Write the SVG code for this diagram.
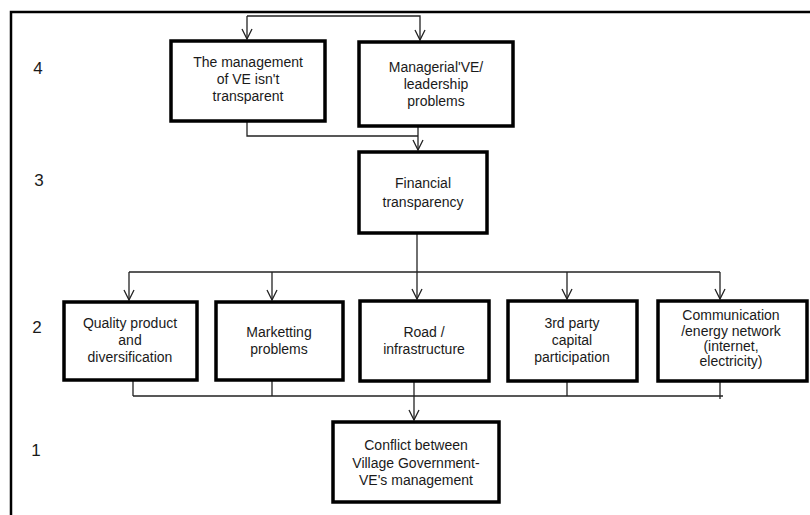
<svg xmlns="http://www.w3.org/2000/svg" width="810" height="515" viewBox="0 0 810 515">
<style>
.box{fill:#fff;stroke:#000;stroke-width:3.5}
.t{font-family:"Liberation Sans",Arial,sans-serif;font-size:14px;fill:#1a1a1a;text-anchor:middle}
.n{font-family:"Liberation Sans",Arial,sans-serif;font-size:17px;fill:#1a1a1a;text-anchor:middle}
.c{fill:none;stroke:#222;stroke-width:1.3}
.a{marker-end:url(#arr)}
</style>
<defs>
<marker id="arr" viewBox="0 0 12 12" refX="11" refY="6" markerWidth="12" markerHeight="12" markerUnits="userSpaceOnUse" orient="auto">
<path d="M1,1 L11,6 L1,11" fill="none" stroke="#222" stroke-width="1.3"/>
</marker>
</defs>
<rect width="810" height="515" fill="#fff"/>
<g id="frame"><path d="M11,515 V12 H810" fill="none" stroke="#000" stroke-width="2.5"/></g>
<g id="levels">
<text class="n" x="38" y="74">4</text>
<text class="n" x="39" y="186">3</text>
<text class="n" x="37" y="333">2</text>
<text class="n" x="36" y="456">1</text>
</g>
<g id="connectors">
<path class="c a" d="M247,16 H420 V40"/>
<path class="c a" d="M247,16 V39"/>
<path class="c" d="M247,121 V136 H418"/>
<path class="c a" d="M418,126 V150"/>
<path class="c a" d="M417,233 V299"/>
<path class="c" d="M129,272 H720"/>
<path class="c a" d="M129,272 V300"/>
<path class="c a" d="M272,272 V300"/>
<path class="c a" d="M567,272 V299"/>
<path class="c a" d="M720,272 V299"/>
<path class="c" d="M133,381 V396 M272,381 V396 M567,381 V396 M720,381 V399 M133,396 H723"/>
<path class="c a" d="M414,381 V420"/>
</g>
<g id="n_mgmt">
<rect class="box" x="171" y="41" width="154" height="80"/>
<text class="t" x="248" y="67">The management</text>
<text class="t" x="248" y="84">of VE isn't</text>
<text class="t" x="248" y="101">transparent</text>
</g>
<g id="n_leader">
<rect class="box" x="359" y="42" width="154" height="84"/>
<text class="t" x="436" y="72">Managerial'VE/</text>
<text class="t" x="436" y="89">leadership</text>
<text class="t" x="436" y="106">problems</text>
</g>
<g id="n_fin">
<rect class="box" x="359" y="152" width="128" height="81"/>
<text class="t" x="423" y="188">Financial</text>
<text class="t" x="423" y="207">transparency</text>
</g>
<g id="n_quality">
<rect class="box" x="64" y="302" width="133" height="78"/>
<text class="t" x="130" y="328">Quality product</text>
<text class="t" x="130" y="345">and</text>
<text class="t" x="130" y="362">diversification</text>
</g>
<g id="n_market">
<rect class="box" x="216" y="302" width="127" height="78"/>
<text class="t" x="279" y="337">Marketting</text>
<text class="t" x="279" y="354">problems</text>
</g>
<g id="n_road">
<rect class="box" x="360" y="301" width="129" height="80"/>
<text class="t" x="424" y="337">Road /</text>
<text class="t" x="424" y="354">infrastructure</text>
</g>
<g id="n_3rd">
<rect class="box" x="508" y="301" width="129" height="80"/>
<text class="t" x="572" y="328">3rd party</text>
<text class="t" x="572" y="345">capital</text>
<text class="t" x="572" y="362">participation</text>
</g>
<g id="n_comm">
<rect class="box" x="658" y="301" width="149" height="80"/>
<text class="t" x="731" y="320">Communication</text>
<text class="t" x="731" y="336">/energy network</text>
<text class="t" x="731" y="351">(internet,</text>
<text class="t" x="731" y="366">electricity)</text>
</g>
<g id="n_conflict">
<rect class="box" x="333" y="422" width="166" height="80"/>
<text class="t" x="416" y="450">Conflict between</text>
<text class="t" x="416" y="468">Village Government-</text>
<text class="t" x="416" y="485">VE's management</text>
</g>
</svg>
